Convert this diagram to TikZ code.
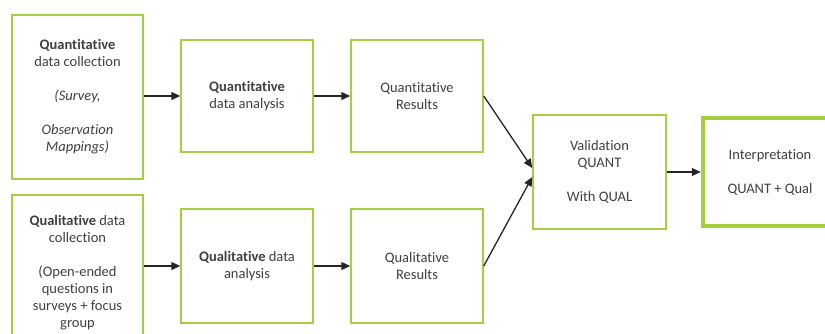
\documentclass[tikz,border=0pt]{standalone}
\usepackage{fontspec}
\setmainfont{Carlito}[Ligatures={NoCommon}]
\usetikzlibrary{arrows.meta}
\definecolor{boxgreen}{HTML}{A4CF3E}
\definecolor{txt}{HTML}{404040}
\definecolor{arr}{HTML}{262626}
\begin{document}
\begin{tikzpicture}[x=1pt,y=-1pt,
  box/.style={draw=boxgreen,line width=1.5pt,fill=white,align=center,text=txt,
    font=\fontsize{14.5}{17}\selectfont,inner sep=2pt},
  thickbox/.style={box,line width=4.5pt},
  conn/.style={draw=arr,line width=1.3pt,-{Triangle[length=9pt,width=8pt]}}]
\useasboundingbox (0,0) rectangle (825,333);
\fill[white] (0,0) rectangle (825,333);
\node[box,minimum width=131pt,minimum height=164pt] (qnc) at (77.5,97)
  {\textbf{Quantitative}\\data collection\\[17pt]\textit{(Survey,}\\[17pt]\textit{Observation}\\\textit{Mappings)}};
\node[box,minimum width=131pt,minimum height=155pt] (qlc) at (77.5,272.5)
  {\textbf{Qualitative} data\\collection\\[17pt](Open-ended\\questions in\\surveys + focus\\group};
\node[box,minimum width=132pt,minimum height=112pt] (qna) at (247,96)
  {\textbf{Quantitative}\\data analysis};
\node[box,minimum width=132pt,minimum height=112pt] (qnr) at (417,96)
  {Quantitative\\Results};
\node[box,minimum width=132pt,minimum height=114pt] (qla) at (247,266)
  {\textbf{Qualitative} data\\analysis};
\node[box,minimum width=132pt,minimum height=114pt] (qlr) at (417,266)
  {Qualitative\\Results};
\node[box,minimum width=133pt,minimum height=114pt] (val) at (599.5,172)
  {Validation\\QUANT\\[17pt]With QUAL};
\node[thickbox,minimum width=134pt,minimum height=108pt] (int) at (770,172)
  {Interpretation\\[17pt]QUANT + Qual};
\draw[conn] (qnc.east |- qna.west) -- (qna.west);
\draw[conn] (qlc.east |- qla.west) -- (qla.west);
\draw[conn] (qna.east) -- (qnr.west);
\draw[conn] (qla.east) -- (qlr.west);
\draw[conn] (qnr.east) -- ([yshift=4pt]val.west);
\draw[conn] (qlr.east) -- ([yshift=-5pt]val.west);
\draw[conn] (val.east) -- (int.west);
\end{tikzpicture}
\end{document}
